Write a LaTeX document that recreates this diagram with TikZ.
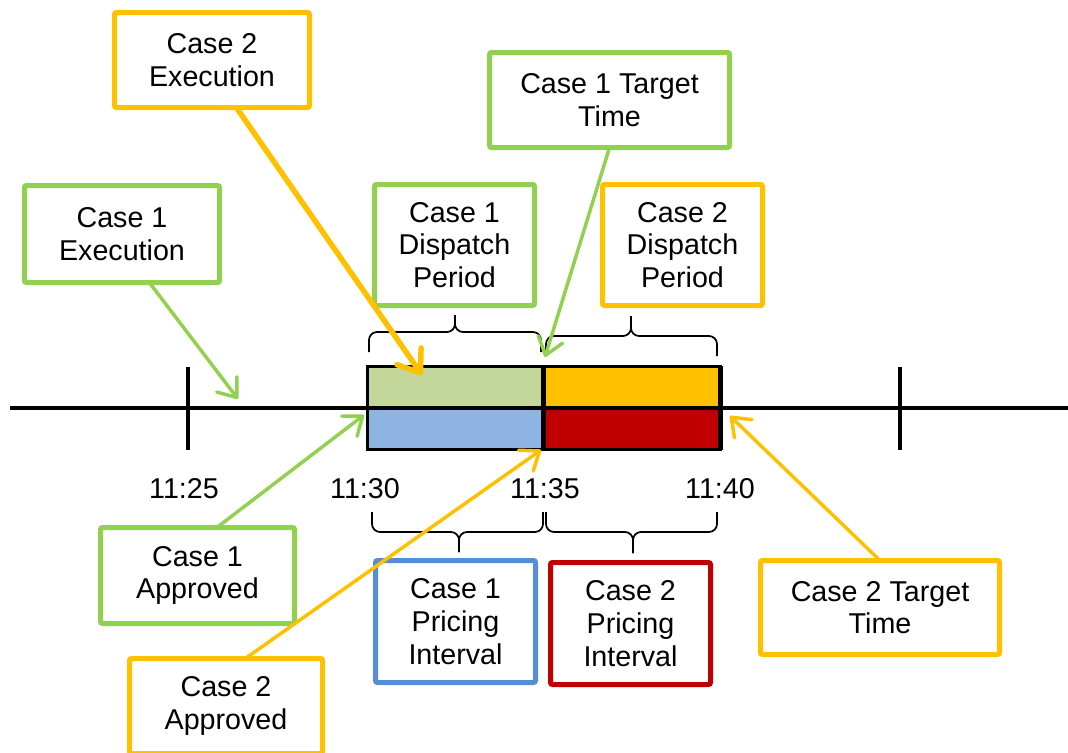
\documentclass[tikz,border=0pt]{standalone}
\usepackage{fontspec}
\setmainfont{Liberation Sans}
\usetikzlibrary{arrows.meta,calc}
\definecolor{cgreen}{HTML}{92D050}
\definecolor{corange}{HTML}{FFC000}
\definecolor{cblue}{HTML}{558ED5}
\definecolor{cred}{HTML}{C00000}
\definecolor{fgreen}{HTML}{C4D79B}
\definecolor{fblue}{HTML}{8DB4E2}
\begin{document}
\begin{tikzpicture}[x=0.75pt,y=-0.75pt,
  callout/.style={draw=#1, line width=3.75pt, rounded corners=1.5pt, fill=white,
    align=center, inner sep=0pt, outer sep=0pt,
    font=\fontsize{21.5}{24.5}\selectfont},
  timelabel/.style={anchor=base, inner sep=0pt, font=\fontsize{21.5}{24.5}\selectfont},
  axis/.style={line width=3pt},
  bracket/.style={line width=1.3pt, rounded corners=6pt},
  thinarrow/.style={draw=#1, line width=2.6pt,
    -{Straight Barb[length=12.5pt,width=19pt,round]}},
  thickarrow/.style={draw=#1, line width=4.1pt,
    -{Straight Barb[length=15pt,width=22pt,round]}}
]
\useasboundingbox (0,0) rectangle (1068,753);

% time axis and ticks
\draw[axis] (10,408) -- (1068,408);
\draw[axis] (188,367) -- (188,450);
\draw[axis] (900,367) -- (900,450);

% dispatch / pricing blocks
\draw[line width=2.25pt, fill=fgreen] (367,366) rectangle (543,408);
\draw[line width=2.25pt, fill=corange] (543,366) rectangle (720,408);
\draw[line width=2.25pt, fill=fblue] (367,408) rectangle (543,449);
\draw[line width=2.25pt, fill=cred] (543,408) rectangle (720,449);
\draw[axis] (367,408) -- (720,408);
\draw[line width=3.75pt] (543,366) -- (543,450);
\draw[line width=3.75pt] (720,366) -- (720,450);

% time labels
\node[timelabel] (l25) at (184,498) {11:25};
\node[timelabel] (l30) at (365,498) {11:30};
\node[timelabel] (l35) at (545,498) {11:35};
\node[timelabel] (l40) at (720,498) {11:40};

% braces above the blocks
\draw[bracket] (369,352) -- (369,332) -- (455,332) -- (455,315);
\draw[bracket] (455,315) -- (455,332) -- (541,332) -- (541,352);
\draw[bracket] (546,356) -- (546,336) -- (631,336) -- (631,316);
\draw[bracket] (631,316) -- (631,336) -- (717,336) -- (717,356);
% braces below the blocks
\draw[bracket] (372,512) -- (372,532) -- (459,532) -- (459,552);
\draw[bracket] (459,552) -- (459,532) -- (543,532) -- (543,512);
\draw[bracket] (546,512) -- (546,532) -- (633,532) -- (633,553);
\draw[bracket] (633,553) -- (633,532) -- (717,532) -- (717,512);

% callout boxes
\node[callout=corange, minimum width=146.25pt, minimum height=71.25pt] (c2exec) at (212,60) {Case 2\\Execution};
\node[callout=cgreen, minimum width=180pt, minimum height=71.25pt] (c1target) at (609.5,100) {Case 1 Target\\Time};
\node[callout=cgreen, minimum width=146.25pt, minimum height=72.75pt] (c1exec) at (122,234) {Case 1\\Execution};
\node[callout=cgreen, minimum width=120pt, minimum height=90.75pt] (c1disp) at (454.5,245) {Case 1\\Dispatch\\Period};
\node[callout=corange, minimum width=120pt, minimum height=90.75pt] (c2disp) at (682.5,245) {Case 2\\Dispatch\\Period};
\node[callout=cgreen, minimum width=145.5pt, minimum height=72pt] (c1appr) at (197.5,575.5) {Case 1\\Approved};
\node[callout=corange, minimum width=144.75pt, minimum height=71.25pt] (c2appr) at (226,706) {Case 2\\Approved};
\node[callout=cblue, minimum width=120pt, minimum height=91.5pt] (c1price) at (455.5,621.5) {Case 1\\Pricing\\Interval};
\node[callout=cred, minimum width=120pt, minimum height=91.5pt] (c2price) at (630.5,623.5) {Case 2\\Pricing\\Interval};
\node[callout=corange, minimum width=179.25pt, minimum height=70.5pt] (c2target) at (880,607.5) {Case 2 Target\\Time};

% arrow end points on the time axis
\coordinate (t1exec) at (238,399);
\coordinate (t2exec) at (422,375);
\coordinate (t1target) at (545,357);
\coordinate (t1appr) at (364,415);
\coordinate (t2appr) at (541,450);
\coordinate (t2target) at (730,416);

% pointers
\draw[thinarrow=cgreen] ($(c1exec.south west)!0.64!(c1exec.south east)$) -- (t1exec);
\draw[thickarrow=corange] ($(c2exec.south west)!0.625!(c2exec.south east)$) -- (t2exec);
\draw[thinarrow=cgreen] (c1target.south) -- (t1target);
\draw[thinarrow=cgreen] ($(c1appr.north west)!0.6!(c1appr.north east)$) -- (t1appr);
\draw[thinarrow=corange] ($(c2appr.north west)!0.6!(c2appr.north east)$) -- (t2appr);
\draw[thinarrow=corange] (c2target.north) -- (t2target);
\end{tikzpicture}
\end{document}
